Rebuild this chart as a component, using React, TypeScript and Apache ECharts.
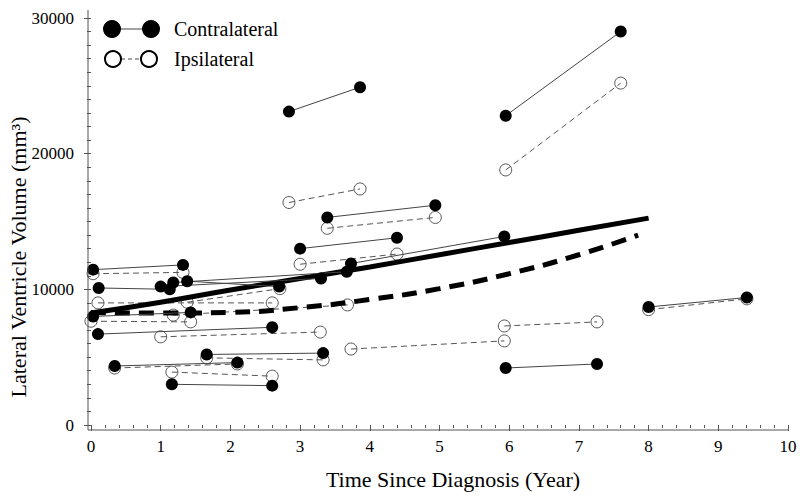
import React, { useEffect, useRef } from "react";
import * as echarts from "echarts";

// ---- Data ----
// Contralateral (filled, solid): [time1, time2] and [volume1, volume2] per subject
const contraTimes: [number, number][] = [
  [0.03, 1.32], [0.11, 1.13], [0.03, 1.43], [0.1, 2.6], [0.34, 2.1],
  [1.0, 3.3], [1.18, 3.67], [1.38, 2.7], [1.16, 2.6], [1.66, 3.33],
  [2.84, 3.86], [3.0, 4.39], [3.39, 4.94], [3.73, 5.93], [5.95, 7.6],
  [5.95, 7.26], [8.0, 9.41],
];
const contraVolumes: [number, number][] = [
  [11450, 11800], [10100, 10000], [8000, 8300], [6700, 7200], [4350, 4600],
  [10200, 10800], [10500, 11300], [10600, 10200], [3000, 2900], [5200, 5300],
  [23100, 24900], [13000, 13800], [15300, 16200], [11900, 13900], [22800, 29000],
  [4200, 4500], [8700, 9400],
];
// Ipsilateral (open, dashed)
const ipsiTimes: [number, number][] = [
  [0.03, 1.32], [0.1, 2.6], [0.0, 1.43], [0.34, 2.1], [1.0, 3.29],
  [1.18, 3.68], [1.38, 2.71], [1.16, 2.6], [1.66, 3.33], [2.84, 3.86],
  [3.0, 4.39], [3.39, 4.94], [3.73, 5.93], [5.95, 7.6], [5.93, 7.26],
  [8.0, 9.41],
];
const ipsiVolumes: [number, number][] = [
  [11150, 11250], [9000, 9000], [7650, 7600], [4200, 4500], [6500, 6850],
  [8100, 8850], [9050, 10050], [3900, 3600], [4950, 4800], [16400, 17400],
  [11850, 12600], [14500, 15300], [5600, 6200], [18800, 25200], [7300, 7600],
  [8500, 9300],
];
// Fitted trajectories
const contraFitTimes = [0, 1, 2, 3, 4, 5, 6, 7, 8];
const contraFitValues = [8250, 9050, 9950, 10800, 11650, 12550, 13450, 14350, 15250];
const ipsiFitTimes = [0, 1, 2, 3, 4, 5, 6, 7, 7.85];
const ipsiFitValues = [8300, 8250, 8300, 8650, 9250, 10050, 11150, 12550, 14000];

// Axis ticks
const xTicks = { min: 0, max: 10, interval: 1 };
const yTicks = { min: 0, max: 30000, interval: 10000 };

const legendLabels = ["Contralateral", "Ipsilateral"];
const xTitle = "Time Since Diagnosis (Year)";
const yTitle = "Lateral Ventricle Volume (mm³)";

const FONT = "Liberation Serif, Times New Roman, serif";

export default function App() {
  const ref = useRef<HTMLDivElement>(null);

  useEffect(() => {
    document.body.style.margin = "0";
    if (!ref.current) return;
    const chart = echarts.init(ref.current, undefined, { renderer: "svg" });

    const series: any[] = [];
    ipsiTimes.forEach((t, i) => {
      series.push({
        type: "line",
        z: 2,
        data: [[t[0], ipsiVolumes[i][0]], [t[1], ipsiVolumes[i][1]]],
        symbol: "circle",
        symbolSize: 12,
        showSymbol: true,
        lineStyle: { color: "#555", width: 1, type: [6, 4] },
        itemStyle: { color: "rgba(0,0,0,0)", borderColor: "#555", borderWidth: 1 },
        silent: true,
      });
    });
    series.push({
      type: "line",
      z: 3,
      data: contraFitTimes.map((t, i) => [t, contraFitValues[i]]),
      showSymbol: false,
      symbol: "none",
      smooth: true,
      lineStyle: { color: "#000", width: 5 },
      silent: true,
    });
    series.push({
      type: "line",
      z: 3,
      data: ipsiFitTimes.map((t, i) => [t, ipsiFitValues[i]]),
      showSymbol: false,
      symbol: "none",
      smooth: true,
      lineStyle: { color: "#000", width: 5, type: [15, 9] },
      silent: true,
    });
    contraTimes.forEach((t, i) => {
      series.push({
        type: "line",
        z: 4,
        data: [[t[0], contraVolumes[i][0]], [t[1], contraVolumes[i][1]]],
        symbol: "circle",
        symbolSize: 12,
        showSymbol: true,
        lineStyle: { color: "#444", width: 1 },
        itemStyle: { color: "#000", borderColor: "#000", borderWidth: 0 },
        silent: true,
      });
    });

    const axisColor = "#555";

    chart.setOption({
      animation: false,
      backgroundColor: "#fff",
      textStyle: { fontFamily: FONT },
      grid: { left: 91, right: 12, top: 18, bottom: 75, containLabel: false, outerBoundsMode: "none" },
      xAxis: {
        type: "value",
        min: xTicks.min,
        max: xTicks.max,
        interval: xTicks.interval,
        offset: 5,
        axisLine: { show: false },
        axisTick: { show: true, length: 6, lineStyle: { color: axisColor } },
        minorTick: { show: true, splitNumber: 5, length: 3, lineStyle: { color: axisColor } },
        splitLine: { show: false },
        axisLabel: { color: "#000", fontSize: 17, fontFamily: FONT, margin: 8 },
        name: xTitle,
        nameLocation: "middle",
        nameGap: 38,
        nameTextStyle: { color: "#000", fontSize: 22, fontFamily: FONT, padding: [0, 0, 0, 27] },
      },
      yAxis: {
        type: "value",
        min: yTicks.min,
        max: yTicks.max,
        interval: yTicks.interval,
        offset: 3,
        axisLine: { show: false },
        axisTick: { show: true, length: 7, lineStyle: { color: axisColor } },
        minorTick: { show: true, splitNumber: 10, length: 4, lineStyle: { color: axisColor } },
        splitLine: { show: false },
        axisLabel: {
          color: "#000",
          fontSize: 17,
          fontFamily: FONT,
          margin: 14,
          formatter: (v: number) => String(v),
        },
      },
      graphic: [
        { type: "line", shape: { x1: 88, y1: 10, x2: 88, y2: 430 }, style: { stroke: axisColor, lineWidth: 1 }, z: 10 },
        { type: "line", shape: { x1: 88, y1: 430, x2: 788, y2: 430 }, style: { stroke: axisColor, lineWidth: 1 }, z: 10 },
        // y-axis title
        {
          type: "text",
          x: 18,
          y: 257,
          rotation: Math.PI / 2,
          style: { text: yTitle, fill: "#000", font: `22px ${FONT}`, align: "center", verticalAlign: "middle" },
          z: 11,
        },
        // legend: contralateral
        { type: "line", shape: { x1: 112, y1: 29, x2: 151, y2: 29 }, style: { stroke: "#444", lineWidth: 1 }, z: 10 },
        { type: "circle", shape: { cx: 112, cy: 29, r: 9 }, style: { fill: "#000" }, z: 11 },
        { type: "circle", shape: { cx: 151, cy: 29, r: 9 }, style: { fill: "#000" }, z: 11 },
        { type: "text", x: 174, y: 29, style: { text: legendLabels[0], fill: "#000", font: `20px ${FONT}`, verticalAlign: "middle" }, z: 11 },
        // legend: ipsilateral
        { type: "line", shape: { x1: 121, y1: 59, x2: 141, y2: 59 }, style: { stroke: "#444", lineWidth: 1, lineDash: [4, 3] }, z: 10 },
        { type: "circle", shape: { cx: 113, cy: 59, r: 8 }, style: { fill: "#fff", stroke: "#000", lineWidth: 2 }, z: 11 },
        { type: "circle", shape: { cx: 149, cy: 59, r: 8 }, style: { fill: "#fff", stroke: "#000", lineWidth: 2 }, z: 11 },
        { type: "text", x: 174, y: 59, style: { text: legendLabels[1], fill: "#000", font: `20px ${FONT}`, verticalAlign: "middle" }, z: 11 },
      ],
      series,
    });

    return () => chart.dispose();
  }, []);

  return (
    <div
      ref={ref}
      style={{ position: "absolute", left: 0, top: 0, width: 800, height: 500, background: "#fff" }}
    />
  );
}
